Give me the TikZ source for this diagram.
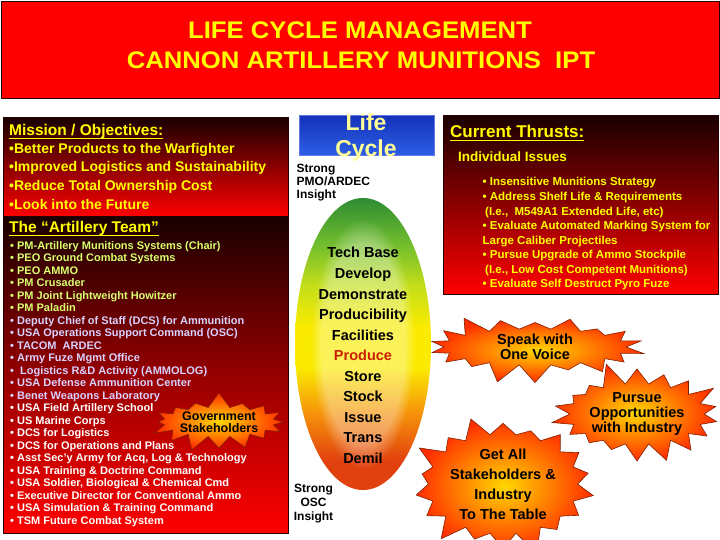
\documentclass[tikz,border=0pt]{standalone}
\usepackage{fontspec}
\setmainfont{Liberation Sans}
\newfontfamily\ttlfont[FakeStretch=1.07]{Liberation Sans}
\usetikzlibrary{shapes.symbols,shapes.geometric,fadings}

\definecolor{ttlred}{RGB}{255,0,0}
\definecolor{ttlyel}{RGB}{255,255,0}
\definecolor{pmgreen}{RGB}{215,255,110}
\definecolor{lav}{RGB}{215,210,255}
\definecolor{lcyel}{RGB}{255,255,150}
\definecolor{lcRed}{RGB}{225,65,15}
\definecolor{lcOrange}{RGB}{245,145,10}
\definecolor{lcYellow}{RGB}{250,235,0}
\definecolor{lcYG}{RGB}{195,222,25}
\definecolor{lcGreen}{RGB}{115,190,45}
\definecolor{lcDGreen}{RGB}{45,140,50}
\definecolor{darkbrd}{RGB}{40,0,0}
\definecolor{paneltop}{RGB}{25,0,0}
\definecolor{panelmid}{RGB}{150,0,0}
\definecolor{starin}{RGB}{255,215,0}
\definecolor{starout}{RGB}{255,45,0}
\definecolor{starbrd}{RGB}{130,30,0}
\definecolor{prodred}{RGB}{205,30,0}
\definecolor{boxtop}{RGB}{20,50,185}
\definecolor{boxbot}{RGB}{45,95,230}
\definecolor{boxbrd}{RGB}{100,120,235}

\pgfdeclareverticalshading{lifeshade}{100bp}{color(0bp)=(lcRed); color(25bp)=(lcRed); color(30bp)=(lcRed); color(38bp)=(lcOrange); color(46bp)=(lcYellow); color(53bp)=(lcYellow); color(60bp)=(lcYG); color(67bp)=(lcGreen); color(75bp)=(lcDGreen); color(100bp)=(lcDGreen)}

\newsavebox\ulbox
\newcommand\ulin[1]{\sbox\ulbox{#1}\rlap{\rule[-3pt]{\wd\ulbox}{1.4pt}}\usebox\ulbox}

\tikzset{
  ttl/.style={inner sep=0pt, text=ttlyel, font=\ttlfont\bfseries\fontsize{24}{26}\selectfont},
  panel/.style={rectangle, anchor=north west, inner sep=0pt, draw=darkbrd, line width=1pt},
  hd/.style={inner sep=0pt, anchor=base west, text=ttlyel, font=\bfseries\fontsize{15.5}{18}\selectfont},
  mis/.style={inner sep=0pt, anchor=base west, text=ttlyel, font=\bfseries\fontsize{14}{16}\selectfont},
  team/.style={inner sep=0pt, anchor=base west, font=\bfseries\fontsize{11}{12}\selectfont},
  thr/.style={inner sep=0pt, anchor=base west, text=ttlyel, font=\bfseries\fontsize{11.5}{13}\selectfont},
  stage/.style={inner sep=0pt, anchor=base, text=black, font=\bfseries\fontsize{14.5}{16}\selectfont},
  lctext/.style={inner sep=0pt, anchor=base, text=lcyel, font=\bfseries\fontsize{23}{25}\selectfont},
  burst/.style={starburst, shade, inner color=starin, outer color=starout, draw=starbrd, line width=0.6pt,
     align=center, text=black, inner sep=0pt, starburst points=18, starburst point height=24pt},
}

\begin{document}
\begin{tikzpicture}[x=1pt,y=-1pt]
\clip (0,0) rectangle (720,540);
\fill[white] (0,0) rectangle (720,540);

% ---------- title ----------
\node[panel, fill=ttlred, minimum width=718pt, minimum height=97pt] (titlebar) at (1,1) {};
\node[ttl, anchor=base] (t1) at (360,39) {LIFE CYCLE MANAGEMENT};
\node[ttl, anchor=base] (t2) at (361,68.3) {CANNON ARTILLERY MUNITIONS\ \ IPT};

% ---------- left panel ----------
\node[panel, minimum width=285pt, minimum height=317pt, top color=paneltop, bottom color=ttlred, middle color=panelmid] (teambox) at (3,216) {};
\node[panel, minimum width=285pt, minimum height=99pt, top color=paneltop, bottom color=ttlred] (missionbox) at (3,117) {};

\node[hd] (mhead) at (9,136) {\ulin{Mission / Objectives:}};
\node[mis] (m1) at (9,153.3) {•Better Products to the Warfighter};
\node[mis] (m2) at (9,172) {•Improved Logistics and Sustainability};
\node[mis] (m3) at (9,190.7) {•Reduce Total Ownership Cost};
\node[mis] (m4) at (9,209.3) {•Look into the Future};

\node[hd] (thead) at (9,233) {\ulin{The “Artillery Team”}};

\foreach \c/\t [count=\i] in {
 pmgreen/PM-Artillery Munitions Systems (Chair),
 pmgreen/PEO Ground Combat Systems,
 pmgreen/PEO AMMO,
 pmgreen/PM Crusader,
 pmgreen/PM Joint Lightweight Howitzer,
 pmgreen/PM Paladin,
 lav/Deputy Chief of Staff (DCS) for Ammunition,
 lav/USA Operations Support Command (OSC),
 lav/TACOM\ \ ARDEC,
 lav/Army Fuze Mgmt Office,
 lav/\ Logistics R\&D Activity (AMMOLOG),
 lav/USA Defense Ammunition Center,
 lav/Benet Weapons Laboratory,
 white/USA Field Artillery School,
 white/US Marine Corps,
 white/DCS for Logistics,
 white/DCS for Operations and Plans,
 white/{Asst Sec'y Army for Acq, Log \& Technology},
 white/USA Training \& Doctrine Command,
 white/{USA Soldier, Biological \& Chemical Cmd},
 white/Executive Director for Conventional Ammo,
 white/USA Simulation \& Training Command,
 white/TSM Future Combat System}
 \node[team, text=\c] (tm\i) at (10, 236.5+12.5*\i) {•\ \t};

\node[burst, minimum width=142pt, minimum height=46pt, starburst points=16, starburst point height=16pt, random starburst=7, font=\bfseries\fontsize{12.5}{12}\selectfont] (gov) at (219,422) {Government\\Stakeholders};

% ---------- centre ----------
\node[panel, minimum width=135pt, minimum height=40pt, top color=boxtop, bottom color=boxbot, draw=boxbrd, line width=0.8pt] (lcbox) at (299,115) {};
\node[lctext] (life) at (366,131) {Life};
\node[lctext] (cycle) at (366,157) {Cycle};

\node[inner sep=0pt, anchor=north west, align=left, text=black, font=\bfseries\fontsize{12}{13.3}\selectfont] (pmo) at (296.5,163.5) {Strong\\PMO/ARDEC\\Insight};

\node[ellipse, shading=lifeshade, minimum width=136pt, minimum height=292pt, inner sep=0pt] (lc) at (363,344) {};
\fill[white, opacity=0.35, path fading=circle with fuzzy edge 20 percent] (lc.center) ellipse [x radius=52pt, y radius=125pt];

\foreach \s [count=\i] in {Tech Base, Develop, Demonstrate, Producibility, Facilities, {\textcolor{prodred}{Produce}}, Store, Stock, Issue, Trans, Demil}
  \node[stage] (st\i) at (363, 237.45+20.55*\i) {\s};

\node[inner sep=0pt, anchor=north, align=center, text=black, font=\bfseries\fontsize{12}{14}\selectfont] (osc) at (313.5,484) {Strong\\OSC\\Insight};

% ---------- right panel ----------
\node[panel, minimum width=275pt, minimum height=179pt, top color=paneltop, bottom color=ttlred] (thrustbox) at (443,115) {};
\node[hd, font=\bfseries\fontsize{17}{19}\selectfont] (chead) at (450,138) {\ulin{Current Thrusts:}};
\node[hd, font=\bfseries\fontsize{13.5}{15}\selectfont] (indiv) at (458,161.7) {Individual Issues};

\node[thr] (r1) at (482.5,186) {•\ Insensitive Munitions Strategy};
\node[thr] (r2) at (482.5,200.5) {•\ Address Shelf Life \& Requirements};
\node[thr] (r3) at (485,215) {(I.e.,\ \ M549A1 Extended Life, etc)};
\node[thr] (r4) at (482.5,229.5) {•\ Evaluate Automated Marking System for};
\node[thr] (r5) at (482.5,244) {Large Caliber Projectiles};
\node[thr] (r6) at (482.5,258.5) {•\ Pursue Upgrade of Ammo Stockpile};
\node[thr] (r7) at (485,273) {(I.e., Low Cost Competent Munitions)};
\node[thr] (r8) at (482.5,287.5) {•\ Evaluate Self Destruct Pyro Fuze};

% ---------- starbursts ----------
\node[burst, minimum width=222pt, minimum height=72pt, starburst point height=20pt, random starburst=3, font=\bfseries\fontsize{14.5}{15}\selectfont] (speak) at (535,347) {Speak with\\One Voice};
\node[burst, minimum width=165pt, minimum height=94pt, random starburst=5, font=\bfseries\fontsize{14.5}{15}\selectfont] (pursue) at (637,414) {Pursue\\Opportunities\\with Industry};
\node[burst, minimum width=192pt, minimum height=116pt, random starburst=9, font=\bfseries\fontsize{14.5}{20}\selectfont] (getall) at (503,484) {Get All\\Stakeholders \&\\Industry\\To The Table};
\end{tikzpicture}
\end{document}
